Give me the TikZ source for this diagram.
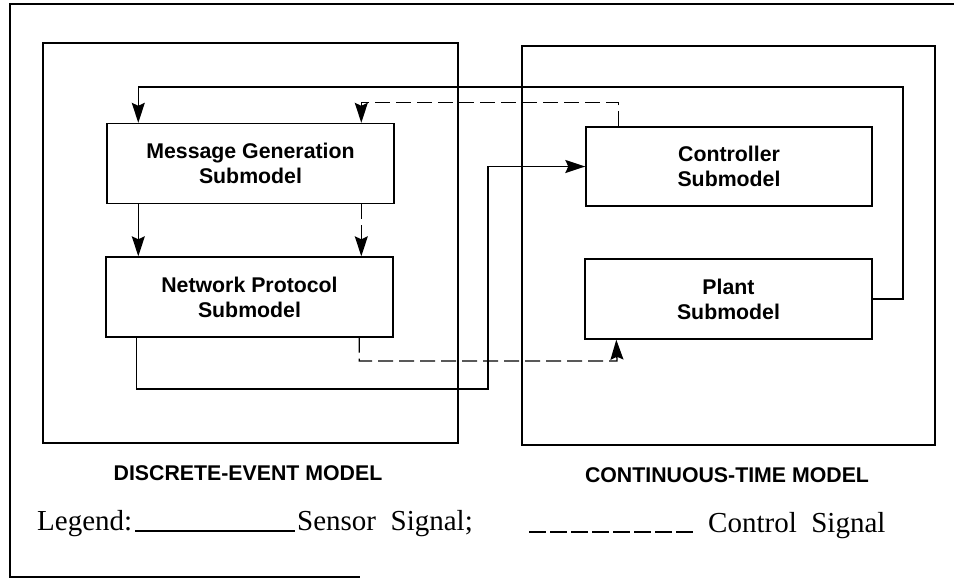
\documentclass[tikz,border=0pt]{standalone}
\usepackage{fontspec}
\setmainfont{Liberation Serif}
\newfontfamily\labelfont{Liberation Sans}
\usetikzlibrary{arrows.meta,calc}
\tikzset{
  sub/.style={draw,line width=1.4pt,inner sep=0pt,align=center,
    font=\labelfont\bfseries\fontsize{21.3}{25}\selectfont,
    minimum width=287pt,minimum height=80pt},
  model/.style={draw,line width=1.4pt,inner sep=0pt},
  caption/.style={font=\labelfont\bfseries\fontsize{21.3}{24}\selectfont,inner sep=0pt},
  legendtext/.style={font=\fontsize{29}{32}\selectfont,inner sep=0pt,anchor=base west},
  sensor/.style={line width=1.3pt},
  control/.style={line width=1.3pt,dash pattern=on 15pt off 6pt},
  bigarrow/.style={>={Stealth[length=20pt,width=13pt,inset=3pt]},->}
}
\begin{document}
\begin{tikzpicture}[x=1pt,y=-1pt]
\useasboundingbox (0,0) rectangle (954,579);
% outer frame
\draw[line width=1.2pt] (954,4) -- (10,4) -- (10,577) -- (360,577);
% model boxes
\node[model,minimum width=415pt,minimum height=400pt] (des) at (250.5,243) {};
\node[model,minimum width=413pt,minimum height=399pt] (ct) at (728.5,245.5) {};
% submodels
\node[sub] (mg) at (250.5,163.5) {Message Generation\\Submodel};
\node[sub] (np) at (249.5,297) {Network Protocol\\Submodel};
\node[sub,minimum width=286pt,minimum height=79pt] (ctrl) at (729,166.5) {Controller\\Submodel};
\node[sub] (plant) at (728.5,299) {Plant\\Submodel};
% captions
\node[caption] (desl) at (248,473) {DISCRETE-EVENT MODEL};
\node[caption] (ctl) at (727,475) {CONTINUOUS-TIME MODEL};
% connectors
\draw[sensor,bigarrow] (plant.east) -| (903,87) -| ($(mg.north west)+(32,0)$);
\draw[control,bigarrow] ($(ctrl.north west)+(33,0)$) |- ($(mg.north west)+(255,-20)$) -- ($(mg.north west)+(255,0)$);
\draw[sensor,bigarrow] ($(mg.south west)+(32,0)$) -- ($(np.north west)+(33,0)$);
\draw[control,bigarrow] ($(mg.south west)+(255,0)$) -- ($(np.north west)+(256,0)$);
\draw[sensor,bigarrow] ($(np.south west)+(31,0)$) |- (488,389) |- (ctrl.west);
\draw[control,bigarrow] ($(np.south west)+(254,0)$) |- (617,361) -- ($(plant.south west)+(32,0)$);
% legend
\node[legendtext] (leg) at (37,530) {Legend:};
\coordinate (s1) at (135,531);
\coordinate (s2) at (295,531);
\draw[line width=1.1pt] (s1) -- (s2);
\node[legendtext] (sens) at (297,530) {Sensor\ \ Signal;};
\coordinate (c1) at (529,532);
\coordinate (c2) at (693,532);
\draw[line width=1.1pt,dash pattern=on 17pt off 4pt] (c1) -- (c2);
\node[legendtext] (ctrls) at (708,532) {Control\ \ Signal};
\end{tikzpicture}
\end{document}
